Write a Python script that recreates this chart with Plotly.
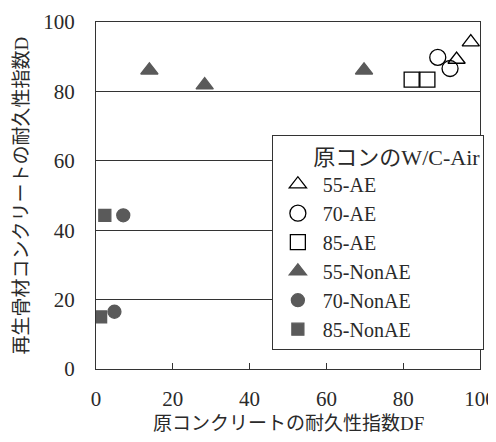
import plotly.graph_objects as go

# Data
ae55_x = [93.9, 97.6]
ae55_y = [89.2, 94.2]
ae70_x = [89.0, 92.2]
ae70_y = [89.8, 86.6]
ae85_x = [82.2, 86.3]
ae85_y = [83.4, 83.4]
non55_x = [13.9, 28.3, 69.8]
non55_y = [86.1, 81.8, 86.1]
non70_x = [7.1, 4.8]
non70_y = [44.3, 16.5]
non85_x = [2.3, 1.2]
non85_y = [44.3, 15.0]

x_ticks = [0, 20, 40, 60, 80, 100]
y_ticks = [0, 20, 40, 60, 80, 100]

x_title = "原コンクリートの耐久性指数DF"
y_title = "再生骨材コンクリートの耐久性指数D"
legend_title = "原コンのW/C-Air"

FONT = "Liberation Serif, 'Noto Sans CJK JP', serif"
DARK = "#5a5a5a"
TXT = "#2a2a2a"

series = [
    ("55-AE", ae55_x, ae55_y, "triangle-up-open", "black", 15),
    ("70-AE", ae70_x, ae70_y, "circle-open", "black", 16),
    ("85-AE", ae85_x, ae85_y, "square-open", "black", 15),
    ("55-NonAE", non55_x, non55_y, "triangle-up", DARK, 15),
    ("70-NonAE", non70_x, non70_y, "circle", DARK, 13),
    ("85-NonAE", non85_x, non85_y, "square", DARK, 12),
]

fig = go.Figure()
for i, (name, xs, ys, sym, col, sz) in enumerate(series):
    fig.add_trace(go.Scatter(
        x=xs, y=ys, mode="markers", name=name, legendgroup=f"g{i}",
        marker=dict(symbol=sym, size=sz, color=col,
                    line=dict(width=1.3, color=col)),
    ))

fig.add_annotation(
    text=x_title, xref="paper", yref="paper", x=0.5, y=-0.156,
    xanchor="center", yanchor="middle", showarrow=False,
    font=dict(family=FONT, size=19, color=TXT),
)
fig.add_annotation(
    text=y_title, xref="paper", yref="paper", x=-0.193, y=0.5,
    xanchor="center", yanchor="middle", showarrow=False, textangle=-90,
    font=dict(family=FONT, size=19, color=TXT),
)

fig.update_layout(
    width=496, height=442,
    margin=dict(l=88, r=24, t=14, b=81),
    paper_bgcolor="white", plot_bgcolor="white",
    font=dict(family=FONT, size=20, color=TXT),
    showlegend=True,
    legend=dict(
        x=0.458, y=0.674, xanchor="left", yanchor="top",
        bordercolor="#333", borderwidth=1, bgcolor="white",
        font=dict(family=FONT, size=20, color=TXT),
        title=dict(text="&nbsp;&nbsp;&nbsp;&nbsp;&nbsp;&nbsp;&nbsp;" + legend_title,
                   font=dict(family=FONT, size=22)),
        tracegroupgap=0, itemwidth=40,
    ),
    xaxis=dict(
        range=[0, 100], tickvals=x_ticks, showgrid=False, zeroline=False,
        showline=True, mirror=True, linecolor="#333", linewidth=1,
        ticks="inside", ticklen=6, tickcolor="#333",
        ticklabelstandoff=11, automargin=False,
        tickfont=dict(size=21),
    ),
    yaxis=dict(
        range=[0, 100], tickvals=y_ticks, showgrid=True, gridcolor="#333",
        gridwidth=1, zeroline=False,
        showline=True, mirror=True, linecolor="#333", linewidth=1,
        ticks="", ticklabelstandoff=16, automargin=False,
        tickfont=dict(size=21),
    ),
)

fig.write_html("out.html")
